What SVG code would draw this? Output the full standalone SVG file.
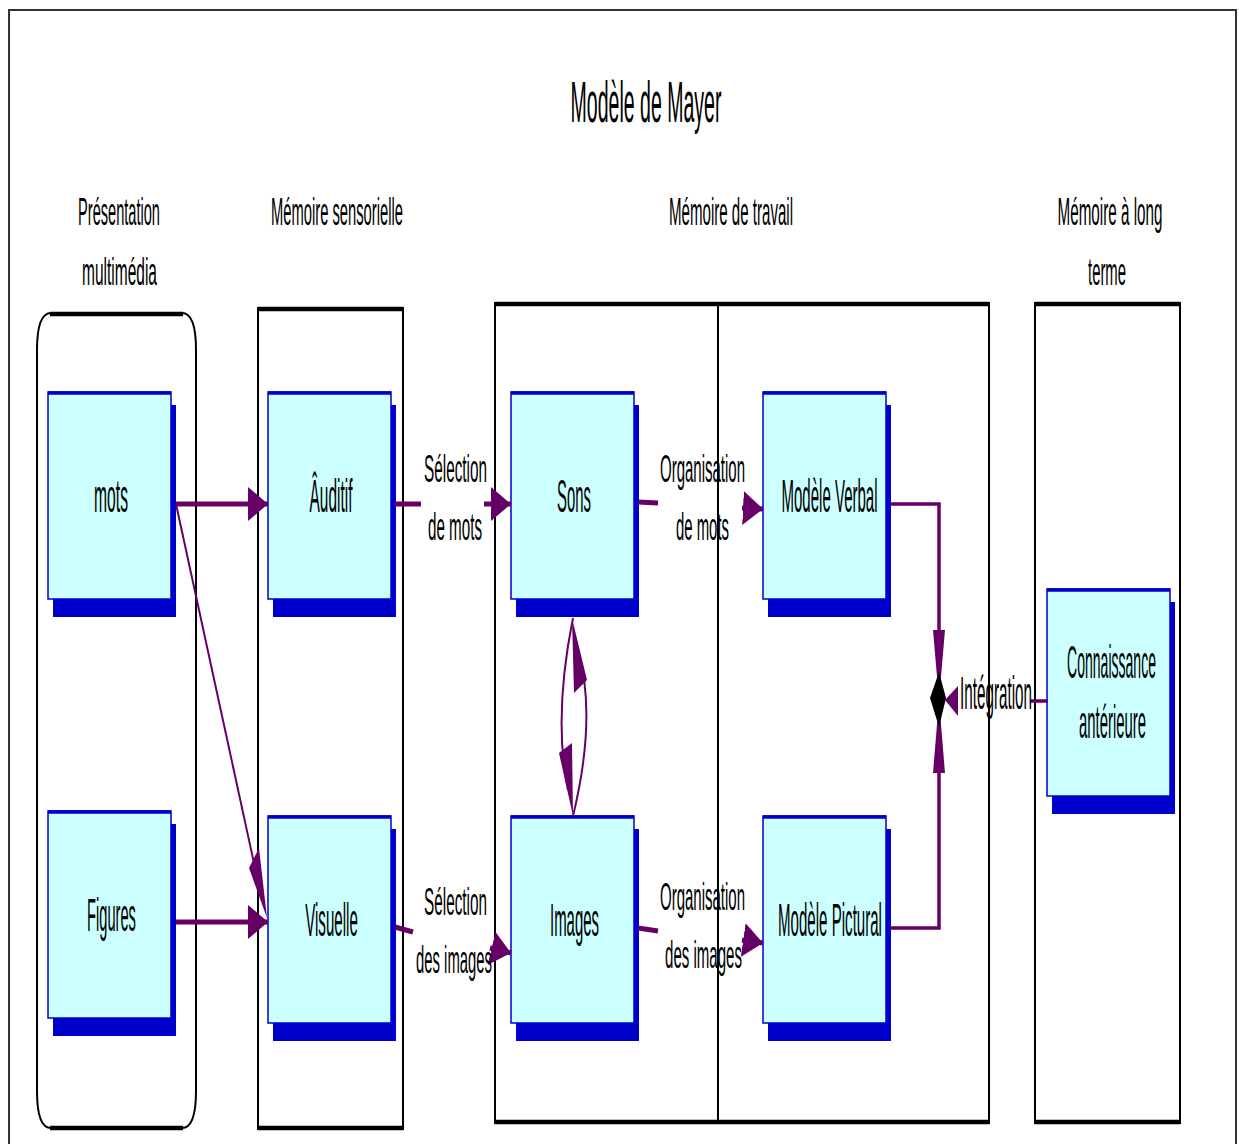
<svg xmlns="http://www.w3.org/2000/svg" width="1239" height="1144" viewBox="0 0 1239 1144">
<style>
.t{font-family:"Liberation Sans",Arial,sans-serif;fill:#000;text-anchor:middle}
.h{font-size:38px}
.n{font-size:46px}
.c{font-size:38px}
.box{fill:#fff;stroke:#000;stroke-width:2}
.edge{fill:none;stroke:#000;stroke-width:4.5}
.sh{fill:#0000CC}
.nd{fill:#CCFFFF;stroke:#0000CC;stroke-width:1.5}
.nt{stroke:#0000CC;stroke-width:3.5}
.thick{fill:none;stroke:#660066;stroke-width:5}
.thin{fill:none;stroke:#660066;stroke-width:2}
.mid{fill:none;stroke:#660066;stroke-width:3.5}
.ah{fill:#660066}
</style>
<defs>
<marker id="arr" viewBox="0 0 20 34" refX="20" refY="17" markerWidth="20" markerHeight="34" markerUnits="userSpaceOnUse" orient="auto">
<path d="M0,0 L20,17 L0,34 z" fill="#660066"/>
</marker>
</defs>
<rect x="0" y="0" width="1239" height="1144" fill="#fff"/>
<rect x="9" y="10" width="1227" height="1150" fill="none" stroke="#333" stroke-width="2"/>
<text class="t" font-size="58" transform="translate(646,122) scale(0.337,1)">Modèle de Mayer</text>

<g id="headers">
<text class="t h" transform="translate(119,225) scale(0.384,1)">Présentation</text>
<text class="t h" transform="translate(119.5,285) scale(0.408,1)">multimédia</text>
<text class="t h" transform="translate(337,225) scale(0.388,1)">Mémoire sensorielle</text>
<text class="t h" transform="translate(731,225) scale(0.397,1)">Mémoire de travail</text>
<text class="t h" transform="translate(1110,225) scale(0.401,1)">Mémoire à long</text>
<text class="t h" transform="translate(1107,285) scale(0.391,1)">terme</text>
</g>

<g id="containers">
<g id="col-presentation">
<path class="box" d="M51,313 L182,313 Q196,313 196,350 L196,1091 Q196,1128 182,1128 L51,1128 Q37,1128 37,1091 L37,350 Q37,313 51,313 Z"/>
<path class="edge" d="M50,314 L183,314 M50,1128 L183,1128"/>
</g>
<g id="col-sensorielle">
<rect class="box" x="258" y="308" width="145" height="821"/>
<path class="edge" d="M258,309 L403,309 M258,1128 L403,1128"/>
</g>
<g id="col-travail">
<rect class="box" x="495" y="303" width="494" height="820"/>
<path class="edge" d="M495,304 L989,304 M495,1122 L989,1122"/>
<line x1="718" y1="304" x2="718" y2="1122" stroke="#000" stroke-width="2"/>
</g>
<g id="col-longterme">
<rect class="box" x="1035" y="303" width="145" height="820"/>
<path class="edge" d="M1035,304 L1180,304 M1035,1122 L1180,1122"/>
</g>
</g>

<g id="node-mots">
<rect class="sh" x="53" y="405" width="123" height="212"/>
<rect class="nd" x="48" y="392" width="123" height="207"/>
<line class="nt" x1="48" y1="393" x2="171" y2="393"/>
<text class="t n" transform="translate(111,512) scale(0.341,1)">mots</text>
</g>
<g id="node-figures">
<rect class="sh" x="53" y="824" width="123" height="212"/>
<rect class="nd" x="48" y="811" width="123" height="207"/>
<line class="nt" x1="48" y1="812" x2="171" y2="812"/>
<text class="t n" transform="translate(111.5,931) scale(0.319,1)">Figures</text>
</g>
<g id="node-auditif">
<rect class="sh" x="273" y="405" width="123" height="212"/>
<rect class="nd" x="268" y="392" width="123" height="207"/>
<line class="nt" x1="268" y1="393" x2="391" y2="393"/>
<text class="t n" transform="translate(331,512) scale(0.336,1)">Âuditif</text>
</g>
<g id="node-visuelle">
<rect class="sh" x="273" y="829" width="123" height="212"/>
<rect class="nd" x="268" y="816" width="123" height="207"/>
<line class="nt" x1="268" y1="817" x2="391" y2="817"/>
<text class="t n" transform="translate(331.5,936) scale(0.329,1)">Visuelle</text>
</g>
<g id="node-sons">
<rect class="sh" x="516" y="405" width="123" height="212"/>
<rect class="nd" x="511" y="392" width="123" height="207"/>
<line class="nt" x1="511" y1="393" x2="634" y2="393"/>
<text class="t n" transform="translate(574,512) scale(0.324,1)">Sons</text>
</g>
<g id="node-images">
<rect class="sh" x="516" y="829" width="123" height="212"/>
<rect class="nd" x="511" y="816" width="123" height="207"/>
<line class="nt" x1="511" y1="817" x2="634" y2="817"/>
<text class="t n" transform="translate(574.5,936) scale(0.325,1)">Images</text>
</g>
<g id="node-verbal">
<rect class="sh" x="768" y="405" width="123" height="212"/>
<rect class="nd" x="763" y="392" width="123" height="207"/>
<line class="nt" x1="763" y1="393" x2="886" y2="393"/>
<text class="t n" transform="translate(829.5,512) scale(0.327,1)">Modèle Verbal</text>
</g>
<g id="node-pictural">
<rect class="sh" x="768" y="829" width="123" height="212"/>
<rect class="nd" x="763" y="816" width="123" height="207"/>
<line class="nt" x1="763" y1="817" x2="886" y2="817"/>
<text class="t n" transform="translate(830,936) scale(0.328,1)">Modèle Pictural</text>
</g>
<g id="node-connaissance">
<rect class="sh" x="1052" y="602" width="123" height="212"/>
<rect class="nd" x="1047" y="589" width="123" height="207"/>
<line class="nt" x1="1047" y1="590" x2="1170" y2="590"/>
<text class="t n" transform="translate(1111.5,678) scale(0.305,1)">Connaissance</text>
<text class="t n" transform="translate(1112.5,738) scale(0.324,1)">antérieure</text>
</g>

<g id="connectors">
<path class="thick" d="M176,504 L268,504" marker-end="url(#arr)"/>
<path class="thick" d="M176,922 L268,922" marker-end="url(#arr)"/>
<path class="thin" d="M176,504 L262,900"/>
<polygon class="ah" points="259,848 249,868 267,918"/>
<path class="thick" d="M395,504 L421,504"/>
<path class="thick" d="M484,504 L511,504" marker-end="url(#arr)"/>
<path class="thick" d="M638,502 L658,503"/>
<path class="thick" d="M742,508 L763,509" marker-end="url(#arr)"/>
<path class="thick" d="M395,927 L413,932"/>
<path class="thick" d="M490,948 L511,953" marker-end="url(#arr)"/>
<path class="thick" d="M638,928 L658,931"/>
<path class="thick" d="M742,940 L763,943" marker-end="url(#arr)"/>
<path class="thin" d="M573,618 Q553,717 568,790"/>
<polygon class="ah" points="573,816 559,753 572,743"/>
<path class="thin" d="M573,816 Q597,717 578,650"/>
<polygon class="ah" points="572,618 587,680 574,693"/>
<path class="mid" d="M890,504 L939,504 L939,632"/>
<path class="mid" d="M890,928 L939,928 L939,771"/>
<polygon class="ah" points="933,630 945,630 939,700"/>
<polygon class="ah" points="933,773 945,773 939,700"/>
<polygon fill="#000" points="930,698 939,672 946,698 939,727"/>
<path class="mid" d="M1030,701 L1048,701"/>
<polygon class="ah" points="945,700 958,686 958,716"/>
</g>

<g id="connector-labels">
<text class="t c" transform="translate(455.5,482) scale(0.403,1)">Sélection</text>
<text class="t c" transform="translate(455,540) scale(0.4,1)">de mots</text>
<text class="t c" transform="translate(702.5,482) scale(0.395,1)">Organisation</text>
<text class="t c" transform="translate(702.5,540) scale(0.392,1)">de mots</text>
<text class="t c" transform="translate(455.5,915) scale(0.403,1)">Sélection</text>
<text class="t c" transform="translate(454,973) scale(0.391,1)">des images</text>
<text class="t c" transform="translate(702.5,910) scale(0.395,1)">Organisation</text>
<text class="t c" transform="translate(703.5,968) scale(0.396,1)">des images</text>
<text class="t n" transform="translate(996,709) scale(0.331,1)">Intégration</text>
</g>
</svg>
